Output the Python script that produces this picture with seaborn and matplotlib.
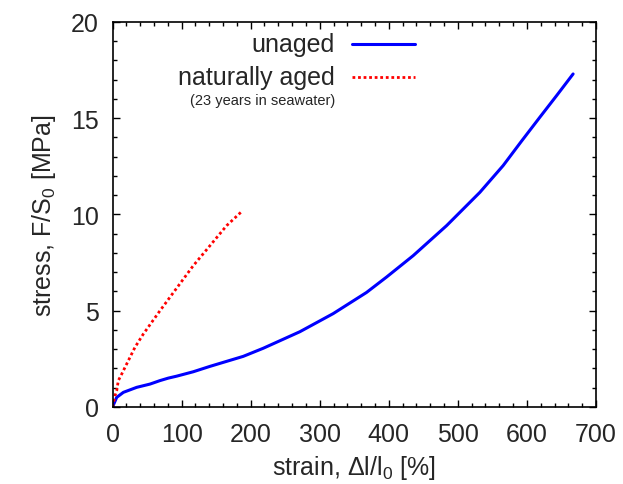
import numpy as np
import pandas as pd
import matplotlib
matplotlib.use("Agg")
import matplotlib.pyplot as plt
from matplotlib.ticker import MultipleLocator
import seaborn as sns

# ----------------------------------------------------------
# data
# ----------------------------------------------------------

unaged_strain = [0, 6.1, 15.7, 35, 54.3, 68.7, 80.8, 92.8, 116.9, 141.1, 165.2,
                 189.3, 218.2, 271.3, 319.5, 367.8, 396.8, 435.3, 483.7,
                 531.9, 565.6, 592, 618.7, 642.9, 666.9]
unaged_stress = [0, 0.5, 0.76, 1.02, 1.19, 1.37, 1.5, 1.6, 1.83, 2.11, 2.37,
                 2.63, 3.05, 3.91, 4.85, 5.95, 6.75, 7.86, 9.42,
                 11.15, 12.54, 13.8, 15.05, 16.17, 17.3]

aged_strain = [0, 3.6, 6.1, 8.4, 13.3, 18.1, 32.5, 44.6, 68.7, 92.8,
               116.9, 141.1, 165.2, 186.9]
aged_stress = [0, 0.59, 0.85, 1.37, 1.71, 2.06, 3.1, 3.79, 5.0, 6.17,
               7.34, 8.38, 9.42, 10.15]

labels = ["unaged", "naturally aged"]
note = "(23 years in seawater)"

df = pd.concat([
    pd.DataFrame({"strain": unaged_strain, "stress": unaged_stress, "sample": labels[0]}),
    pd.DataFrame({"strain": aged_strain, "stress": aged_stress, "sample": labels[1]}),
])

# ----------------------------------------------------------
# style
# ----------------------------------------------------------

sns.set_style("ticks")
plt.rcParams["font.family"] = ["Liberation Sans", "DejaVu Sans"]
plt.rcParams["mathtext.fontset"] = "custom"
plt.rcParams["mathtext.rm"] = "Liberation Sans"
plt.rcParams["mathtext.it"] = "Liberation Sans"

FS = 18
BLUE = "#0000ff"
RED = "#ff0000"
DOTS = (0, (1.0, 1.0))

fig = plt.figure(figsize=(6.23, 4.85), dpi=100)
ax = fig.add_axes([0.1806, 0.1588, 0.776, 0.7938])

sns.lineplot(data=df[df["sample"] == labels[0]], x="strain", y="stress",
             color=BLUE, linewidth=2.2, sort=False, ax=ax)
sns.lineplot(data=df[df["sample"] == labels[1]], x="strain", y="stress",
             color=RED, linewidth=2.0, linestyle=DOTS, sort=False, ax=ax)

ax.set_xlim(0, 700)
ax.set_ylim(0, 20)
ax.xaxis.set_major_locator(MultipleLocator(100))
ax.xaxis.set_minor_locator(MultipleLocator(20))
ax.yaxis.set_major_locator(MultipleLocator(5))
ax.yaxis.set_minor_locator(MultipleLocator(1))
ax.tick_params(which="both", direction="in", top=True, right=True,
               width=1, color="black")
ax.tick_params(which="major", length=5, labelsize=FS)
ax.tick_params(axis="x", which="major", pad=11)
ax.tick_params(axis="y", which="major", pad=10)
ax.tick_params(which="minor", length=3)
for sp in ax.spines.values():
    sp.set_linewidth(1.2)
    sp.set_color("black")

ax.set_xlabel(r"strain, $\Delta$l/l$_0$ [%]", fontsize=FS, labelpad=5)
ax.set_ylabel(r"stress, F/S$_0$ [MPa]", fontsize=FS, labelpad=9)

# gnuplot-like key, drawn by hand
ax.text(0.46, 0.943, labels[0], transform=ax.transAxes, ha="right", va="center", fontsize=FS)
ax.text(0.46, 0.857, labels[1], transform=ax.transAxes, ha="right", va="center", fontsize=FS)
ax.text(0.46, 0.797, note, transform=ax.transAxes, ha="right", va="center", fontsize=10.5)
ax.plot([0.495, 0.626], [0.943, 0.943], transform=ax.transAxes,
        color=BLUE, linewidth=2.2)
ax.plot([0.495, 0.626], [0.857, 0.857], transform=ax.transAxes,
        color=RED, linewidth=2.0, linestyle=DOTS)

fig.savefig("out.png", dpi=100)
